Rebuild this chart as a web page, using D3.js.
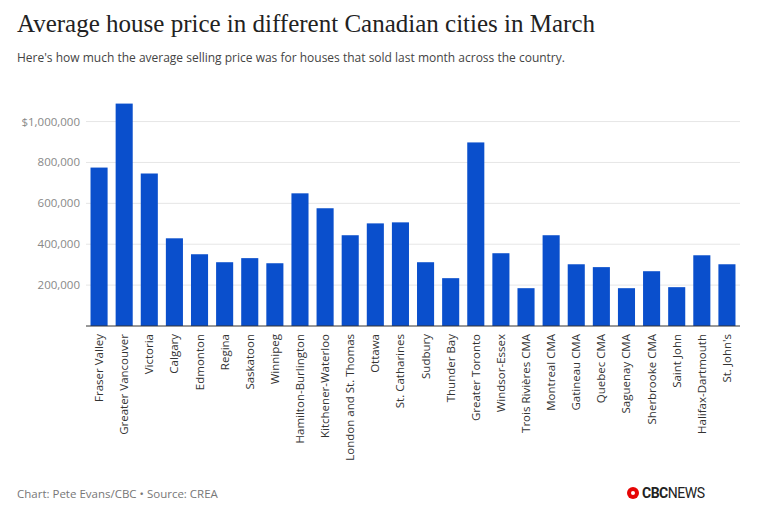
<!DOCTYPE html>
<html><head><meta charset="utf-8">
<script src="https://cdn.jsdelivr.net/npm/d3@7"></script>
<style>
body{margin:0;background:#fff;font-family:"Open Sans",sans-serif;}
</style></head>
<body><div id="chart"></div>
<script>
var cities = ["Fraser Valley","Greater Vancouver","Victoria","Calgary","Edmonton","Regina","Saskatoon","Winnipeg","Hamilton-Burlington","Kitchener-Waterloo","London and St. Thomas","Ottawa","St. Catharines","Sudbury","Thunder Bay","Greater Toronto","Windsor-Essex","Trois Rivières CMA","Montreal CMA","Gatineau CMA","Quebec CMA","Saguenay CMA","Sherbrooke CMA","Saint John","Halifax-Dartmouth","St. John's"];
var prices = [775000,1088000,746000,429000,351000,312000,332000,307000,649000,576000,444000,502000,507000,312000,234000,898000,356000,185000,444000,302000,288000,185000,268000,190000,346000,302000];
var yTicks = [200000,400000,600000,800000,1000000];

var W = 761, H = 517;
var margin = {top: 95, right: 21, bottom: 191, left: 86};
var width = W - margin.left - margin.right, height = H - margin.top - margin.bottom;

var svg = d3.select("#chart").append("svg").attr("width", W).attr("height", H);

svg.append("text").attr("x", 17).attr("y", 32).text("Average house price in different Canadian cities in March")
  .attr("font-family", "Liberation Serif").attr("font-size", "25px").attr("fill", "#222");
svg.append("text").attr("x", 17).attr("y", 62).text("Here's how much the average selling price was for houses that sold last month across the country.")
  .attr("font-size", "12px").attr("fill", "#444");

var g = svg.append("g").attr("transform", `translate(${margin.left},${margin.top})`);

var x = d3.scaleBand().domain(cities).range([0, width]).paddingInner(0.32).paddingOuter(0.18);
var y = d3.scaleLinear().domain([0, 1130000]).range([height, 0]);

g.selectAll(".grid").data(yTicks).enter().append("line")
  .attr("x1", 0).attr("x2", width).attr("y1", d => y(d)).attr("y2", d => y(d))
  .attr("stroke", "#e6e6e6");

g.selectAll(".ylab").data(yTicks).enter().append("text")
  .attr("x", -6).attr("y", d => y(d)).attr("dy", "0.35em").attr("text-anchor", "end")
  .attr("font-size", "11.5px").attr("fill", "#888")
  .text(d => d === 1000000 ? "$1,000,000" : d3.format(",")(d));

g.selectAll("rect").data(prices).enter().append("rect")
  .attr("x", (d, i) => x(cities[i])).attr("width", x.bandwidth())
  .attr("y", d => y(d)).attr("height", d => height - y(d))
  .attr("fill", "#0a4fcc");

g.append("line").attr("x1", 0).attr("x2", width).attr("y1", height).attr("y2", height).attr("stroke", "#333");

g.selectAll(".xlab").data(cities).enter().append("text")
  .attr("transform", d => `translate(${x(d) + x.bandwidth() / 2 + 4},${height + 8}) rotate(-90)`)
  .attr("text-anchor", "end").attr("font-size", "11.5px").attr("fill", "#333")
  .text(d => d);

svg.append("text").attr("x", 17).attr("y", 498).text("Chart: Pete Evans/CBC • Source: CREA")
  .attr("font-size", "11.5px").attr("fill", "#777");

// CBC logo
var logo = svg.append("g").attr("transform", "translate(633,493)");
logo.append("circle").attr("cx", 0).attr("cy", 0).attr("r", 6).attr("fill", "#e60505");
logo.append("circle").attr("cx", 0).attr("cy", 0).attr("r", 2).attr("fill", "#fff");
logo.append("text").attr("x", 9).attr("y", 5).text("CBC").attr("font-family", "Roboto").attr("font-weight", "bold")
  .attr("font-size", "14px").attr("fill", "#222").attr("letter-spacing", "-0.5")
  .append("tspan").text("NEWS").attr("font-weight", "normal");
</script></body></html>
